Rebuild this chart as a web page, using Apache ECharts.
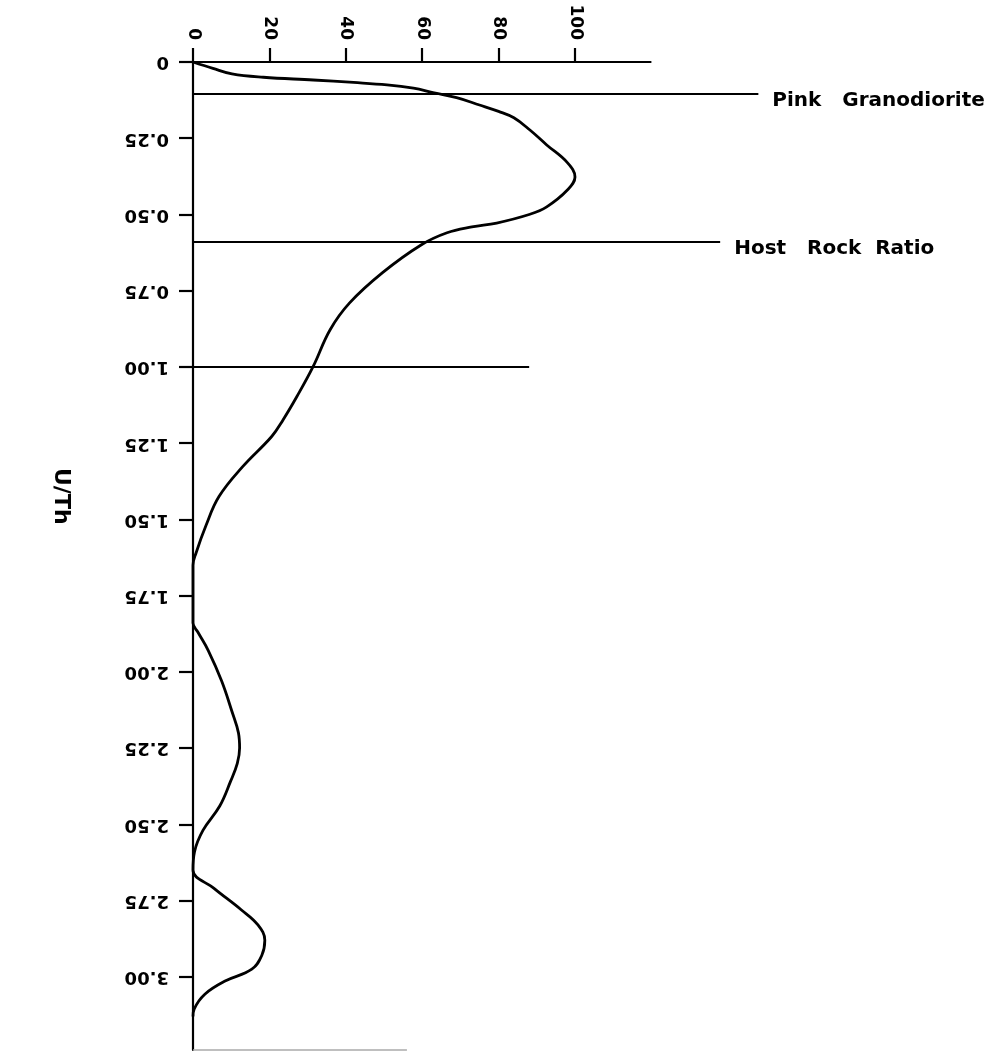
<!DOCTYPE html>
<html>
<head>
<meta charset="utf-8">
<script src="https://cdn.jsdelivr.net/npm/echarts@6/dist/echarts.min.js"></script>
<style>
  html, body { margin: 0; padding: 0; background: #fff; }
  #chart { width: 989px; height: 1053px; }
</style>
</head>
<body>
<div id="chart"></div>
<script>
// U/Th ratio ticks (vertical axis, read downward)
const uthTicks = [0, 0.25, 0.5, 0.75, 1.0, 1.25, 1.5, 1.75, 2.0, 2.25, 2.5, 2.75, 3.0]
const uthLabels = ['0', '0.25', '0.50', '0.75', '1.00', '1.25', '1.50', '1.75', '2.00', '2.25', '2.50', '2.75', '3.00']
// frequency ticks (top axis)
const pctTicks = [0, 20, 40, 60, 80, 100]

// curve: U/Th -> frequency
const curveUth = [0, 0.021, 0.039, 0.050, 0.059, 0.067, 0.075, 0.086, 0.10, 0.117, 0.141, 0.162, 0.183, 0.223, 0.272, 0.33, 0.377, 0.42, 0.475, 0.50, 0.528, 0.541, 0.56, 0.60, 0.69, 0.79, 0.878, 1.0, 1.097, 1.173, 1.228, 1.327, 1.425, 1.52, 1.61, 1.65, 1.75, 1.84, 1.87, 1.93, 2.03, 2.13, 2.20, 2.25, 2.30, 2.36, 2.44, 2.52, 2.59, 2.65, 2.71, 2.78, 2.83, 2.88, 2.93, 2.975, 3.014, 3.057, 3.106, 3.13]
const curveVal = [0, 5.2, 10.2, 18.4, 31.5, 42, 50.8, 57.7, 62.8, 69, 75, 80, 84, 88.2, 92.6, 98, 100, 98, 92.6, 88, 79.5, 73, 66.5, 59.7, 49.7, 41, 35.9, 31.4, 27.2, 23.6, 20.6, 13, 6.8, 3.4, 0.8, 0, 0, 0, 1.3, 4, 7.5, 10.2, 11.9, 12.2, 11.6, 9.8, 7.0, 2.6, 0.4, 0, 5.5, 12.6, 17, 18.8, 18, 15.4, 8.4, 3.1, 0.3, 0]

// horizontal reference lines
const refNames = ['Pink   Granodiorite', 'Host   Rock  Ratio', '']
const refUth = [0.105, 0.59, 1.0]
const refLen = [148, 138, 88]

// frame pieces
const topAxisEnd = 120
const uthMax = 3.24
const bottomEnd = 56

var myChart = echarts.init(document.getElementById('chart'), null, { renderer: 'canvas' })

const font = 'DejaVu Sans'

const refLines = refUth.map((u, i) => {
  return [
    { coord: [0, u], name: refNames[i] },
    { coord: [refLen[i], u] }
  ]
})

const option = {
  animation: false,
  backgroundColor: '#fff',
  grid: {
    left: 193,
    top: 62,
    width: 573,
    height: 988
  },
  xAxis: {
    type: 'value',
    position: 'top',
    min: 0,
    max: 150,
    axisLine: { show: false },
    axisTick: {
      show: true,
      length: 14,
      customValues: pctTicks,
      lineStyle: { color: '#000', width: 2.2 }
    },
    axisLabel: {
      show: true,
      customValues: pctTicks,
      rotate: -90,
      margin: 22,
      color: '#000',
      fontFamily: font,
      fontWeight: 'bold',
      fontSize: 17
    },
    splitLine: { show: false }
  },
  yAxis: {
    type: 'value',
    inverse: true,
    min: 0,
    max: uthMax,
    axisLine: { show: true, lineStyle: { color: '#000', width: 2.2 } },
    axisTick: {
      show: true,
      length: 14,
      customValues: uthTicks,
      lineStyle: { color: '#000', width: 2.2 }
    },
    axisLabel: {
      show: true,
      customValues: uthTicks,
      rotate: 180,
      margin: 24,
      color: '#000',
      fontFamily: font,
      fontWeight: 'bold',
      fontSize: 18,
      formatter: (v) => {
        const i = uthTicks.findIndex(t => Math.abs(t - v) < 1e-6)
        return i >= 0 ? uthLabels[i] : ''
      }
    },
    splitLine: { show: false }
  },
  graphic: [
    {
      type: 'text',
      left: 50,
      top: 468,
      rotation: -Math.PI / 2,
      style: {
        text: 'U/Th',
        fill: '#000',
        font: 'bold 22px "DejaVu Sans"'
      }
    }
  ],
  series: [
    {
      name: 'curve',
      type: 'line',
      smooth: 0.4,
      symbol: 'none',
      clip: false,
      lineStyle: { color: '#000', width: 2.8 },
      data: curveUth.map((u, i) => [curveVal[i], u])
    },
    {
      name: 'frame',
      type: 'line',
      symbol: 'none',
      data: [],
      markLine: {
        silent: true,
        symbol: 'none',
        animation: false,
        lineStyle: { color: '#000', width: 2.2, type: 'solid' },
        label: {
          show: true,
          position: 'end',
          distance: 14,
          offset: [0, 7],
          color: '#000',
          fontFamily: font,
          fontWeight: 'bold',
          fontSize: 20,
          formatter: (p) => p.name
        },
        data: [
          [{ coord: [0, 0] }, { coord: [topAxisEnd, 0] }],
          [{ coord: [0, uthMax], lineStyle: { color: '#aaa', width: 1.5 } }, { coord: [bottomEnd, uthMax] }]
        ].concat(refLines)
      }
    }
  ]
}

myChart.setOption(option)
</script>
</body>
</html>
